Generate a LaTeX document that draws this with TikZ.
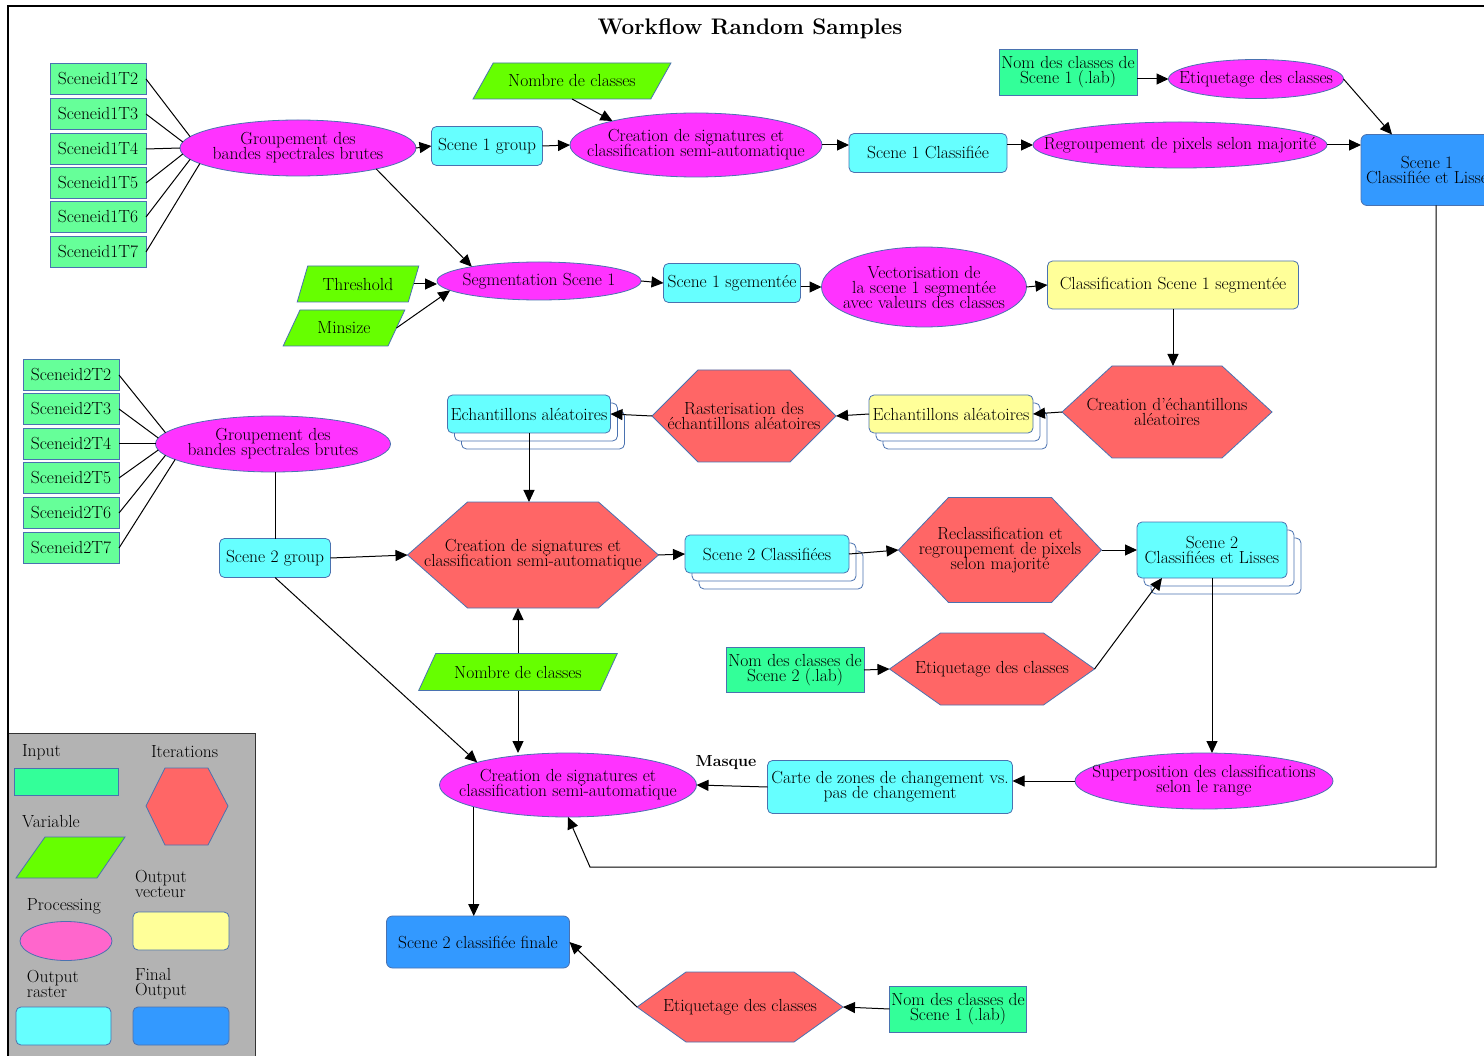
\documentclass[tikz,border=0pt]{standalone}
\usepackage{fontspec}
\usetikzlibrary{shapes.geometric,arrows.meta,calc}
\pgfdeclarelayer{bg}
\pgfsetlayers{bg,main}
\definecolor{cinA}{HTML}{66FF99}
\definecolor{cinB}{HTML}{33FF99}
\definecolor{cvar}{HTML}{66FF00}
\definecolor{cproc}{HTML}{FF33FF}
\definecolor{craster}{HTML}{66FFFF}
\definecolor{cvect}{HTML}{FFFF99}
\definecolor{cfinal}{HTML}{3399FF}
\definecolor{chex}{HTML}{FF6666}
\definecolor{cleg}{HTML}{FF66CC}
\definecolor{cgray}{HTML}{B3B3B3}
\definecolor{bcol}{HTML}{4A72B0}
\newcommand\nf{\fontsize{17.5}{15}\selectfont\addfontfeature{FakeStretch=0.8}\lineskiplimit=-30pt\relax}
\newcommand\drawhex[2]{\begin{pgfonlayer}{bg}\path[hexst] (#1.west) -- ($(#1.north west)+(#2,0)$) -- ($(#1.north east)+(-#2,0)$) -- (#1.east) -- ($(#1.south east)+(-#2,0)$) -- ($(#1.south west)+(#2,0)$) -- cycle;\end{pgfonlayer}}
\newcommand\stackback[1]{\begin{pgfonlayer}{bg}\draw[backst] ($(#1.north west)+(14,16)$) rectangle ($(#1.south east)+(14,16)$);\draw[backst] ($(#1.north west)+(7,8)$) rectangle ($(#1.south east)+(7,8)$);\end{pgfonlayer}}
\begin{document}
\begin{tikzpicture}[x=1pt,y=-1pt,
  every node/.style={font=\nf, align=center, inner sep=0pt, outer sep=0pt},
  bx/.style={draw=bcol, line width=0.8pt},
  inp/.style={bx, rectangle, fill=cinA, minimum width=96, minimum height=31},
  inpB/.style={bx, rectangle, fill=cinB},
  var/.style n args={2}{bx, trapezium, fill=cvar, trapezium stretches=true, trapezium left angle=#1, trapezium right angle=#2},
  proc/.style={bx, ellipse, fill=cproc, inner xsep=-70pt, inner ysep=-6pt},
  rast/.style={bx, rectangle, rounded corners=5pt, fill=craster},
  vect/.style={bx, rectangle, rounded corners=5pt, fill=cvect},
  final/.style={bx, rectangle, rounded corners=6pt, fill=cfinal},
  iter/.style={rectangle, draw=none},
  hexst/.style={draw=bcol, line width=0.8pt, fill=chex},
  backst/.style={draw=bcol, line width=0.8pt, fill=white, rounded corners=5pt},
  ln/.style={draw=black, line width=1pt},
  arr/.style={draw=black, line width=1pt, -{Triangle[length=12pt,width=11pt]}},
  legtxt/.style={anchor=west, align=left}
]
\useasboundingbox (0,0) rectangle (1484,1056);
\begin{pgfonlayer}{bg}
\fill[white] (0,0) rectangle (1484,1056);
\end{pgfonlayer}
\clip (0,0) rectangle (1484,1056);

\node[font=\fontsize{22.5}{24}\selectfont\bfseries] (title) at (750,29) {Workflow Random Samples};

% ---------- Scene 1 ----------
\node[inp] (s1t2) at (98,79) {Sceneid1T2};
\node[inp] (s1t3) at (98,114) {Sceneid1T3};
\node[inp] (s1t4) at (98,149) {Sceneid1T4};
\node[inp] (s1t5) at (98,183) {Sceneid1T5};
\node[inp] (s1t6) at (98,217) {Sceneid1T6};
\node[inp] (s1t7) at (98,252) {Sceneid1T7};
\node[proc, minimum width=236, minimum height=56] (G1) at (298,148) {Groupement des\\bandes spectrales brutes};
\node[rast, minimum width=111, minimum height=39] (S1grp) at (487,146) {Scene 1 group};
\node[var={37}{143}, minimum width=198, minimum height=36] (N1) at (572,81) {Nombre de classes};
\node[proc, minimum width=252, minimum height=64] (C1) at (696,145) {Creation de signatures et\\classification semi-automatique};
\node[rast, minimum width=158, minimum height=39] (S1cls) at (928,153) {Scene 1 Classifiée};
\node[proc, minimum width=294, minimum height=46] (R1) at (1180,145) {Regroupement de pixels selon majorité};
\node[inpB, minimum width=138, minimum height=46] (Nom1) at (1068,72) {Nom des classes de\\Scene 1 (.lab)};
\node[proc, minimum width=175, minimum height=39] (E1) at (1256,79) {Etiquetage des classes};
\node[final, minimum width=132, minimum height=71] (F1) at (1427,170) {Scene 1\\Classifiée et Lisse};

\node[var={59}{121}, minimum width=122, minimum height=36] (Th) at (358,284) {Threshold};
\node[var={50}{130}, minimum width=122, minimum height=36] (Ms) at (344,328) {Minsize};
\node[proc, minimum width=204, minimum height=38] (Seg) at (539,281) {Segmentation Scene 1};
\node[rast, minimum width=137, minimum height=39] (S1seg) at (732,283) {Scene 1 sgementée};
\node[proc, minimum width=205, minimum height=80] (V1) at (924,287) {Vectorisation de\\la scene 1 segmentée\\avec valeurs des classes};
\node[vect, minimum width=251, minimum height=48] (Cls1) at (1173,285) {Classification Scene 1 segmentée};

% ---------- samples ----------
\node[iter, minimum width=210, minimum height=92] (CrE) at (1167,412) {Creation d'échantillons\\aléatoires};
\drawhex{CrE}{50}
\node[vect, minimum width=164, minimum height=38] (EchY) at (951,414) {Echantillons aléatoires};
\stackback{EchY}
\node[iter, minimum width=184, minimum height=92] (Rast) at (744,416) {Rasterisation des\\échantillons aléatoires};
\drawhex{Rast}{46}
\node[rast, minimum width=163, minimum height=38] (EchC) at (529,414) {Echantillons aléatoires};
\stackback{EchC}

% ---------- Scene 2 ----------
\node[inp] (s2t2) at (71,375) {Sceneid2T2};
\node[inp] (s2t3) at (71,409) {Sceneid2T3};
\node[inp] (s2t4) at (71,444) {Sceneid2T4};
\node[inp] (s2t5) at (71,478) {Sceneid2T5};
\node[inp] (s2t6) at (71,513) {Sceneid2T6};
\node[inp] (s2t7) at (71,548) {Sceneid2T7};
\node[proc, minimum width=235, minimum height=56] (G2) at (273,444) {Groupement des\\bandes spectrales brutes};
\node[rast, minimum width=111, minimum height=39] (S2grp) at (275,558) {Scene 2 group};
\node[iter, minimum width=251, minimum height=106] (C2h) at (533,555) {Creation de signatures et\\classification semi-automatique};
\drawhex{C2h}{60}
\node[rast, minimum width=164, minimum height=38] (S2cls) at (767,554) {Scene 2 Classifiées};
\stackback{S2cls}
\node[iter, minimum width=203, minimum height=105] (Recl) at (1000,550) {Reclassification et\\regroupement de pixels\\selon majorité};
\drawhex{Recl}{50}
\node[rast, minimum width=150, minimum height=56] (S2L) at (1212,550) {Scene 2\\Classifiées et Lisses};
\stackback{S2L}
\node[var={43}{137}, minimum width=199, minimum height=37] (N2) at (518,672) {Nombre de classes};
\node[inpB, minimum width=138, minimum height=45] (Nom2) at (795,670) {Nom des classes de\\Scene 2 (.lab)};
\node[iter, minimum width=205, minimum height=72] (Et2) at (992,669) {Etiquetage des classes};
\drawhex{Et2}{51}

\node[proc, minimum width=257, minimum height=64] (C2e) at (568,785) {Creation de signatures et\\classification semi-automatique};
\node[rast, minimum width=245, minimum height=53] (Carte) at (890,787) {Carte de zones de changement vs.\\pas de changement};
\node[font=\fontsize{16}{16}\selectfont\bfseries\addfontfeature{FakeStretch=0.85}] (Masque) at (726,763) {Masque};
\node[proc, minimum width=258, minimum height=56] (Sup) at (1204,781) {Superposition des classifications\\selon le range};
\node[final, minimum width=183, minimum height=52] (F2) at (478,942) {Scene 2 classifiée finale};
\node[iter, minimum width=206, minimum height=70] (Et3) at (740,1007) {Etiquetage des classes};
\drawhex{Et3}{49}
\node[inpB, minimum width=137, minimum height=46] (Nom3) at (958,1009) {Nom des classes de\\Scene 1 (.lab)};

\coordinate (lc1) at (1436,867);
\coordinate (lc2) at (590,867);

% ---------- connectors ----------
\draw[ln] (s1t2.east) -- (G1.174);
\draw[ln] (s1t3.east) -- (G1.177);
\draw[ln] (s1t4.east) -- (G1.180);
\draw[ln] (s1t5.east) -- (G1.183);
\draw[ln] (s1t6.east) -- (G1.186);
\draw[ln] (s1t7.east) -- (G1.189);
\draw[arr] (G1.east) -- (S1grp.west);
\draw[arr] (S1grp.east) -- (C1.west);
\draw[arr] (N1.south) -- (C1.164);
\draw[arr] (C1.east) -- (C1.east -| S1cls.west);
\draw[arr] (R1.west -| S1cls.east) -- (R1.west);
\draw[arr] (R1.east) -- (R1.east -| F1.west);
\draw[arr] (E1.west -| Nom1.east) -- (E1.west);
\draw[arr] (E1.east) -- ($(F1.north)+(-35,0)$);
\draw[arr] (G1.345) -- (Seg.168);
\draw[arr] (Th.east) -- (Th.east -| Seg.west);
\draw[arr] (Ms.east) -- (Seg.186);
\draw[arr] (Seg.east) -- (S1seg.west);
\draw[arr] (V1.west -| S1seg.east) -- (V1.west);
\draw[arr] (V1.east) -- (Cls1.west);
\draw[arr] (Cls1.south) -- (Cls1.south |- CrE.north);
\draw[arr] (CrE.west) -- (EchY.east);
\draw[arr] (EchY.west) -- (Rast.east);
\draw[arr] (Rast.west) -- (EchC.east);
\draw[arr] (EchC.south) -- (EchC.south |- C2h.north);

\draw[ln] (s2t2.east) -- (G2.174);
\draw[ln] (s2t3.east) -- (G2.177);
\draw[ln] (s2t4.east) -- (G2.180);
\draw[ln] (s2t5.east) -- (G2.183);
\draw[ln] (s2t6.east) -- (G2.186);
\draw[ln] (s2t7.east) -- (G2.189);
\draw[ln] (S2grp.north |- G2.south) -- (S2grp.north);
\draw[arr] (S2grp.east) -- (C2h.west);
\draw[arr] (N2.north) -- (N2.north |- C2h.south);
\draw[arr] (N2.south) -- (N2.south |- C2e.north);
\draw[arr] (S2grp.south) -- (C2e.166);
\draw[arr] (C2h.east) -- (S2cls.west);
\draw[arr] (S2cls.east) -- (Recl.west);
\draw[arr] (Recl.east) -- (S2L.west);
\draw[arr] (Nom2.east) -- (Et2.west);
\draw[arr] (Et2.east) -- ($(S2L.south)+(-50,0)$);
\draw[arr] (S2L.south) -- (S2L.south |- Sup.north);
\draw[arr] (Sup.west) -- (Sup.west -| Carte.east);
\draw[arr] (Carte.west) -- (C2e.east);
\draw[arr] ($(F1.south)+(9,0)$) -- (lc1) -- (lc2) -- (C2e.south);
\draw[arr] (C2e.193) -- (C2e.193 |- F2.north);
\draw[arr] (Et3.west) -- (F2.east);
\draw[arr] (Nom3.west) -- (Et3.east);

% ---------- legend ----------
\draw[fill=cgray, draw=black!80, line width=1pt] (8,733) rectangle (255,1070);
\node[legtxt] (lgin) at (22,752) {Input};
\node[legtxt] (lgit) at (151,752) {Iterations};
\node[legtxt] (lgva) at (22,822) {Variable};
\node[legtxt] (lgov) at (135,884) {Output\\vecteur};
\node[legtxt] (lgpr) at (27,906) {Processing};
\node[legtxt] (lgor) at (27,984) {Output\\raster};
\node[legtxt] (lgfo) at (135,984) {Final\\Output};
\draw[bx, fill=cinB] (14,768) rectangle (118,795);
\draw[bx, fill=chex] (146,806) -- (165,768) -- (208,768) -- (228,806) -- (208,845) -- (165,845) -- cycle;
\draw[bx, fill=cvar] (16,878) -- (45,837) -- (125,837) -- (97,878) -- cycle;
\draw[bx, fill=cleg] (66,941) ellipse [x radius=46, y radius=19.5];
\draw[bx, fill=cvect, rounded corners=5pt] (133,912) rectangle (229,950);
\draw[bx, fill=craster, rounded corners=5pt] (16,1007) rectangle (111,1045);
\draw[bx, fill=cfinal, rounded corners=5pt] (133,1007) rectangle (229,1045);

% ---------- frame ----------
\draw[black, line width=1.3pt] (8,1070) -- (8,6) -- (1500,6);
\end{tikzpicture}
\end{document}
